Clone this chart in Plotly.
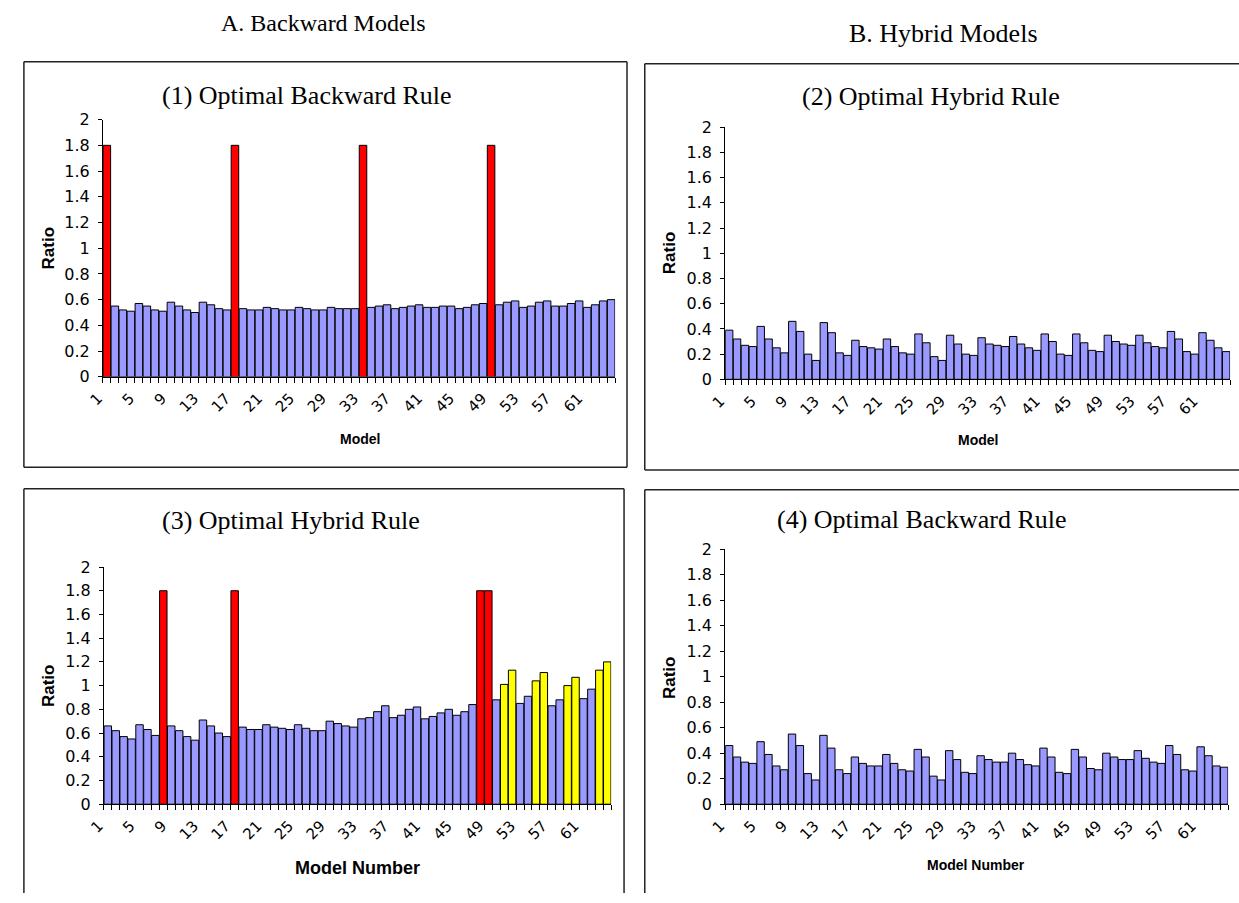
import plotly.graph_objects as go

# ---------------- data ----------------
models = list(range(1, 65))
tick_models = list(range(1, 65, 4))
tick_labels = [str(m) for m in tick_models]
y_ticks = [0, 0.2, 0.4, 0.6, 0.8, 1, 1.2, 1.4, 1.6, 1.8, 2]
y_tick_labels = ["0", "0.2", "0.4", "0.6", "0.8", "1", "1.2", "1.4", "1.6", "1.8", "2"]

p1_values = [1.8,
             0.55, 0.52, 0.51, 0.57, 0.55, 0.52, 0.51, 0.58, 0.55, 0.52, 0.50, 0.58, 0.56, 0.53, 0.52,
             1.8,
             0.53, 0.52, 0.52, 0.54, 0.53, 0.52, 0.52, 0.54, 0.53, 0.52, 0.52, 0.54, 0.53, 0.53, 0.53,
             1.8,
             0.54, 0.55, 0.56, 0.53, 0.54, 0.55, 0.56, 0.54, 0.54, 0.55, 0.55, 0.53, 0.54, 0.56, 0.57,
             1.8,
             0.56, 0.58, 0.59, 0.54, 0.55, 0.58, 0.59, 0.55, 0.55, 0.57, 0.59, 0.54, 0.56, 0.59, 0.60]
p1_red = [1, 17, 33, 49]
p1_yellow = []

p2_values = [0.39, 0.32, 0.27, 0.26, 0.42, 0.32, 0.25, 0.21,
             0.46, 0.38, 0.20, 0.15, 0.45, 0.37, 0.21, 0.19,
             0.31, 0.26, 0.25, 0.24, 0.32, 0.26, 0.21, 0.20,
             0.36, 0.29, 0.18, 0.15, 0.35, 0.28, 0.20, 0.19,
             0.33, 0.28, 0.27, 0.26, 0.34, 0.28, 0.25, 0.23,
             0.36, 0.30, 0.20, 0.19, 0.36, 0.29, 0.23, 0.22,
             0.35, 0.30, 0.28, 0.27, 0.35, 0.29, 0.26, 0.25,
             0.38, 0.32, 0.22, 0.20, 0.37, 0.31, 0.25, 0.22]
p2_red = []
p2_yellow = []

p3_values = [0.66, 0.62, 0.57, 0.55, 0.67, 0.63, 0.58,
             1.8,
             0.66, 0.62, 0.57, 0.54, 0.71, 0.66, 0.60, 0.57,
             1.8,
             0.65, 0.63, 0.63, 0.67, 0.65, 0.64, 0.63, 0.67, 0.64, 0.62,
             0.62, 0.70, 0.68, 0.66, 0.65, 0.72, 0.73, 0.78, 0.83, 0.73,
             0.75, 0.80, 0.82, 0.72, 0.74, 0.77, 0.80, 0.75, 0.78, 0.84,
             1.8, 1.8,
             0.88, 1.01, 1.13, 0.85, 0.91, 1.04, 1.11, 0.83, 0.88, 1.00, 1.07, 0.89, 0.97, 1.13, 1.20]
p3_red = [8, 17, 48, 49]
p3_yellow = [51, 52, 55, 56, 59, 60, 63, 64]

p4_values = [0.46, 0.37, 0.33, 0.32, 0.49, 0.39, 0.30, 0.27,
             0.55, 0.46, 0.24, 0.19, 0.54, 0.44, 0.27, 0.24,
             0.37, 0.32, 0.30, 0.30, 0.39, 0.32, 0.27, 0.26,
             0.43, 0.37, 0.22, 0.19, 0.42, 0.35, 0.25, 0.24,
             0.38, 0.35, 0.33, 0.33, 0.40, 0.35, 0.31, 0.30,
             0.44, 0.37, 0.25, 0.24, 0.43, 0.37, 0.28, 0.27,
             0.40, 0.37, 0.35, 0.35, 0.42, 0.36, 0.33, 0.32,
             0.46, 0.39, 0.27, 0.26, 0.45, 0.38, 0.30, 0.29]
p4_red = []
p4_yellow = []

# ---------------- styling / layout ----------------
W, H = 1239, 903
BLUE, RED, YELLOW = "#9999FF", "#FF0000", "#FFFF00"
SERIF = "Liberation Serif, Times New Roman, serif"
SANS = "DejaVu Sans, Arial, sans-serif"
BOLD = "Liberation Sans, Arial, sans-serif"


def fx(px):
    return px / W


def fy(py):
    return 1 - py / H


def bar_colors(red, yellow):
    out = []
    for m in models:
        if m in red:
            out.append(RED)
        elif m in yellow:
            out.append(YELLOW)
        else:
            out.append(BLUE)
    return out


panels = [
    dict(values=p1_values, red=p1_red, yellow=p1_yellow,
         title="(1) Optimal Backward Rule", tpos=(295, 88),
         xt="Model", xtsize=14, xtpos=(348, 439), ytpos=(33, 244),
         xdom=(88, 607), ydom=(375.7, 113)),
    dict(values=p2_values, red=p2_red, yellow=p2_yellow,
         title="(2) Optimal Hybrid Rule", tpos=(927, 89),
         xt="Model", xtsize=14, xtpos=(975, 440), ytpos=(662, 249),
         xdom=(718.5, 1230), ydom=(378.3, 120.7)),
    dict(values=p3_values, red=p3_red, yellow=p3_yellow,
         title="(3) Optimal Hybrid Rule", tpos=(279, 522),
         xt="Model Number", xtsize=18, xtpos=(346, 877), ytpos=(33, 691),
         xdom=(89, 603), ydom=(812.3, 570)),
    dict(values=p4_values, red=p4_red, yellow=p4_yellow,
         title="(4) Optimal Backward Rule", tpos=(918, 521),
         xt="Model Number", xtsize=14, xtpos=(973, 874), ytpos=(662, 683),
         xdom=(718.5, 1228), ydom=(812.3, 551.7)),
]

fig = go.Figure()
annotations = []
layout_axes = {}

for i, p in enumerate(panels, start=1):
    sfx = "" if i == 1 else str(i)
    fig.add_trace(go.Bar(
        x=models, y=p["values"],
        marker=dict(color=bar_colors(p["red"], p["yellow"]),
                    line=dict(color="black", width=1)),
        xaxis="x" + sfx, yaxis="y" + sfx,
        showlegend=False, hoverinfo="x+y",
    ))
    layout_axes["xaxis" + sfx] = dict(
        domain=[fx(p["xdom"][0]), fx(p["xdom"][1])],
        anchor="y" + sfx,
        range=[0.5, 64.5],
        tickmode="array", tickvals=tick_models, ticktext=tick_labels,
        tickangle=-45, ticks="", ticklabelstandoff=6, ticklabelshift=-9,
        tickfont=dict(family=SANS, size=15, color="black"),
        minor=dict(ticks="outside", tickmode="linear", tick0=0.5, dtick=1,
                   ticklen=5, tickcolor="black", tickwidth=1),
        showline=True, linecolor="black", linewidth=1,
        showgrid=False, zeroline=False, fixedrange=True,
    )
    layout_axes["yaxis" + sfx] = dict(
        domain=[fy(p["ydom"][0]), fy(p["ydom"][1])],
        anchor="x" + sfx,
        range=[0, 2],
        tickmode="array", tickvals=y_ticks, ticktext=y_tick_labels,
        ticks="outside", ticklen=4, tickcolor="black", tickwidth=1,
        ticklabelstandoff=5,
        tickfont=dict(family=SANS, size=16, color="black"),
        showline=True, linecolor="black", linewidth=1,
        showgrid=False, zeroline=False, fixedrange=True,
    )
    annotations.append(dict(text=p["title"], x=fx(p["tpos"][0]), y=fy(p["tpos"][1]),
                            xref="paper", yref="paper", showarrow=False,
                            xanchor="center", yanchor="middle",
                            font=dict(family=SERIF, size=26, color="black")))
    annotations.append(dict(text="<b>" + p["xt"] + "</b>", x=fx(p["xtpos"][0]), y=fy(p["xtpos"][1]),
                            xref="paper", yref="paper", showarrow=False,
                            xanchor="center", yanchor="middle",
                            font=dict(family=BOLD, size=p["xtsize"], color="black")))
    annotations.append(dict(text="<b>Ratio</b>", x=fx(p["ytpos"][0]), y=fy(p["ytpos"][1]),
                            xref="paper", yref="paper", showarrow=False, textangle=-90,
                            xanchor="center", yanchor="middle",
                            font=dict(family=BOLD, size=17, color="black")))

annotations.append(dict(text="A. Backward Models", x=fx(312), y=fy(14),
                        xref="paper", yref="paper", showarrow=False,
                        xanchor="center", yanchor="middle",
                        font=dict(family=SERIF, size=24, color="black")))
annotations.append(dict(text="B. Hybrid Models", x=fx(940), y=fy(25),
                        xref="paper", yref="paper", showarrow=False,
                        xanchor="center", yanchor="middle",
                        font=dict(family=SERIF, size=26, color="black")))

# panel frames (kept inside the page; the right / bottom panels run off the edge)
FRAME = dict(color="#222222", width=1.5)
frame_lines = [
    # panel 1: closed box
    (8, 54, 619, 54), (8, 54, 8, 468), (619, 54, 619, 468), (8, 468, 619, 468),
    # panel 2: open on the right
    (637, 56, W, 56), (637, 56, 637, 471), (637, 471, W, 471),
    # panel 3: open at the bottom
    (8, 490, 616, 490), (8, 490, 8, H), (616, 490, 616, H),
    # panel 4: open right and bottom
    (637, 491, W, 491), (637, 491, 637, H),
]
shapes = []
for (x0, y0, x1, y1) in frame_lines:
    shapes.append(dict(type="line", xref="paper", yref="paper",
                       x0=fx(x0), x1=fx(x1), y0=fy(y0), y1=fy(y1),
                       line=FRAME, layer="below"))

fig.update_layout(
    width=W, height=H,
    margin=dict(l=0, r=0, t=0, b=0),
    paper_bgcolor="white", plot_bgcolor="white",
    bargap=0.06,
    annotations=annotations,
    shapes=shapes,
    showlegend=False,
    **layout_axes,
)

fig.write_html("out.html", config={"displayModeBar": False})
